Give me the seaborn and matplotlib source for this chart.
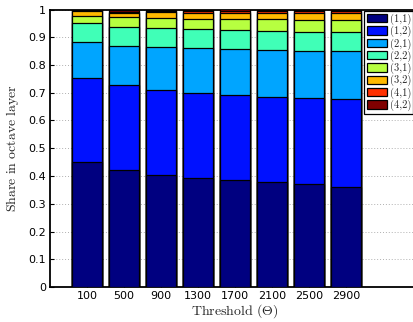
import numpy as np
import pandas as pd
import matplotlib
matplotlib.use("Agg")
import matplotlib.pyplot as plt
import seaborn as sns

thresholds = ["100", "500", "900", "1300", "1700", "2100", "2500", "2900"]
layers = ["(1,1)", "(1,2)", "(2,1)", "(2,2)", "(3,1)", "(3,2)", "(4,1)", "(4,2)"]
share_11 = [0.451, 0.420, 0.405, 0.393, 0.385, 0.378, 0.370, 0.362]
share_12 = [0.303, 0.307, 0.306, 0.307, 0.308, 0.308, 0.312, 0.314]
share_21 = [0.130, 0.142, 0.153, 0.160, 0.164, 0.169, 0.169, 0.174]
share_22 = [0.066, 0.069, 0.069, 0.069, 0.069, 0.068, 0.069, 0.068]
share_31 = [0.027, 0.034, 0.037, 0.037, 0.040, 0.042, 0.043, 0.045]
share_32 = [0.016, 0.016, 0.020, 0.022, 0.023, 0.023, 0.024, 0.023]
share_41 = [0.004, 0.004, 0.006, 0.008, 0.007, 0.008, 0.009, 0.010]
share_42 = [0.003, 0.008, 0.004, 0.004, 0.004, 0.004, 0.004, 0.004]

shares = [share_11, share_12, share_21, share_22, share_31, share_32, share_41, share_42]
cum = np.cumsum(np.array(shares), axis=0)
colors = plt.cm.jet(np.linspace(0, 1, len(layers)))

sns.set_style("white")
plt.rcParams["mathtext.fontset"] = "cm"
plt.rcParams["font.family"] = ["DejaVu Sans"]

fig = plt.figure(figsize=(4.14, 3.22), dpi=100)
ax = fig.add_axes([50 / 414, 1 - 287 / 322, 370 / 414, (287 - 9.5) / 322])

for k in range(len(layers) - 1, -1, -1):
    df = pd.DataFrame({"Threshold": thresholds, "value": cum[k]})
    sns.barplot(data=df, x="Threshold", y="value", order=thresholds, color=colors[k],
                saturation=1, width=0.81, edgecolor="black", linewidth=0.9,
                label=layers[k], ax=ax, zorder=3)

ax.set_xlim(-1, 9)
ax.set_ylim(0, 1)
ax.set_yticks(np.arange(0, 1.01, 0.1))
ax.set_yticklabels(["0", "0.1", "0.2", "0.3", "0.4", "0.5", "0.6", "0.7", "0.8", "0.9", "1"])
ax.set_xticks(range(len(thresholds)))
ax.set_xticklabels(thresholds)
ax.tick_params(axis="both", direction="in", length=3, width=0.8, labelsize=8, pad=3,
               top=True, bottom=True, left=True, right=False, colors="black")
ax.yaxis.grid(True, linestyle=(0, (1, 2)), color="#b0b0b0", linewidth=0.7, zorder=0)
ax.set_axisbelow(True)
for s in ["left", "bottom", "top"]:
    ax.spines[s].set_visible(True)
    ax.spines[s].set_color("black")
    ax.spines[s].set_linewidth(1.3)
ax.spines["right"].set_visible(False)

ax.set_xlabel(r"$\mathrm{Threshold}\ (\Theta)$", fontsize=10, labelpad=1)
ax.set_ylabel(r"$\mathrm{Share\ in\ octave\ layer}$", fontsize=10, labelpad=5)

handles, labels = ax.get_legend_handles_labels()
order = [labels.index(l) for l in layers]
leg = ax.legend([handles[i] for i in order], layers,
                loc="upper left", bbox_to_anchor=(364 / 414, 1 - 11 / 322),
                bbox_transform=fig.transFigure, prop={"family": "cmr10", "size": 7.5},
                frameon=True, fancybox=False,
                framealpha=1, edgecolor="black", borderpad=0.25, labelspacing=0.1,
                handlelength=2.0, handleheight=0.85, handletextpad=0.2, borderaxespad=0)
leg.get_frame().set_linewidth(0.9)

fig.savefig("out.png", dpi=100)
